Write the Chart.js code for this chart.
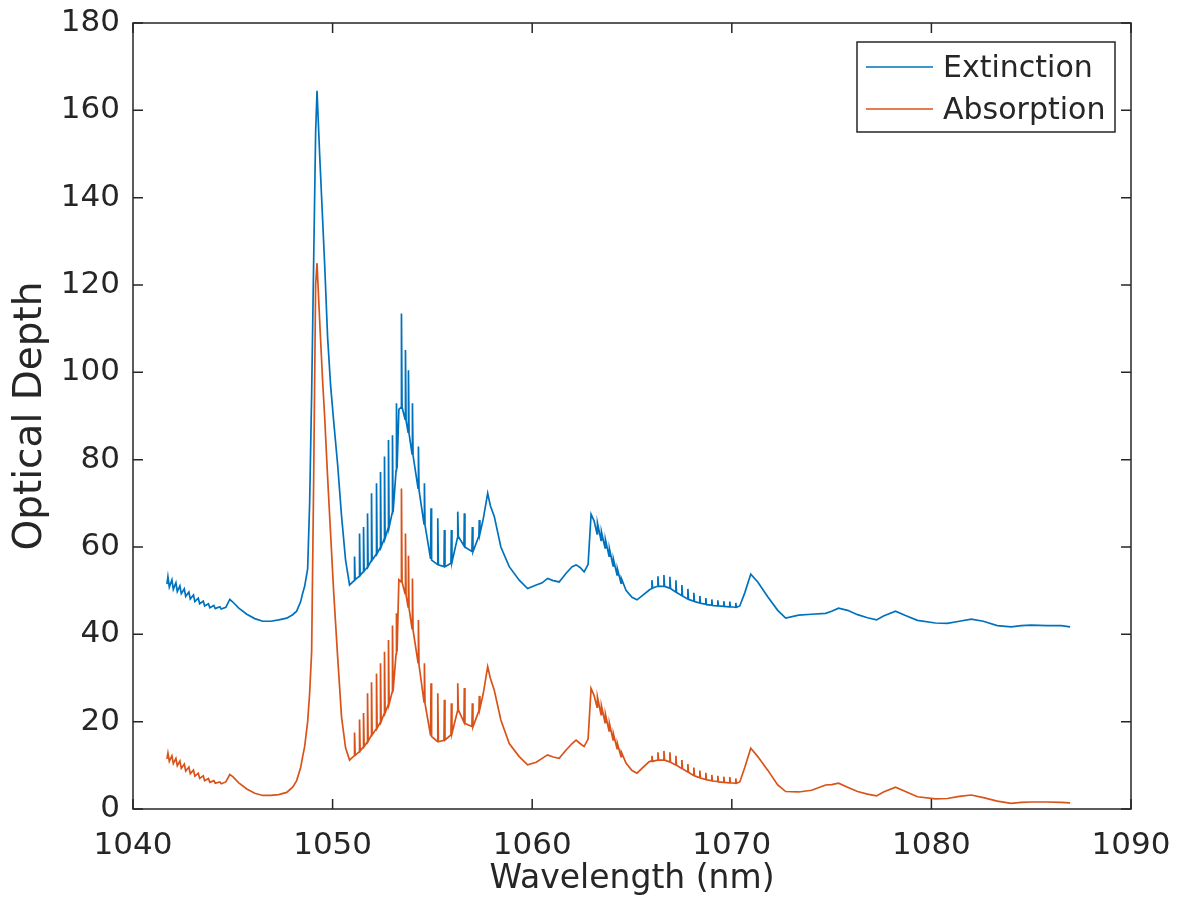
<!DOCTYPE html>
<html>
<head>
<meta charset="utf-8">
<script src="https://cdn.jsdelivr.net/npm/chart.js@4.4.1/dist/chart.umd.min.js"></script>
<style>
  html, body { margin: 0; background: #fff; }
</style>
</head>
<body>
<canvas id="myChart" width="1182" height="917"></canvas>
<script>
// wavelength (nm), shared by both curves
const wavelength = [
  // before the main peak, small ripple
  1041.70, 1041.75, 1041.82, 1041.95, 1042.02, 1042.15, 1042.22, 1042.35, 1042.42, 1042.57,
  1042.64, 1042.80, 1042.87, 1043.03, 1043.10, 1043.27, 1043.34, 1043.52, 1043.59, 1043.78,
  1043.85, 1044.05, 1044.12, 1044.35, 1044.42, 1044.65, 1044.85, 1045.00, 1045.30, 1045.70,
  1046.10, 1046.50, 1046.90, 1047.30, 1047.70, 1048.00, 1048.20, 1048.40, 1048.50, 1048.60,
  // main peak
  1048.75, 1048.85, 1048.95, 1049.05, 1049.15, 1049.22, 1049.35, 1049.50, 1049.60, 1049.75,
  1049.90, 1050.05, 1050.25, 1050.45, 1050.65, 1050.85,
  // comb around 1053 nm
  1051.08, 1051.10, 1051.13, 1051.33, 1051.35, 1051.38, 1051.53, 1051.55, 1051.58, 1051.73,
  1051.75, 1051.78, 1051.93, 1051.95, 1051.98, 1052.18, 1052.20, 1052.23, 1052.38, 1052.40,
  1052.43, 1052.58, 1052.60, 1052.63, 1052.78, 1052.80, 1052.83, 1052.98, 1053.00, 1053.03,
  1053.18, 1053.20, 1053.23, 1053.32, 1053.43, 1053.45, 1053.48, 1053.63, 1053.65, 1053.68,
  1053.78, 1053.80, 1053.83, 1053.98, 1054.00, 1054.03, 1054.28, 1054.30, 1054.33, 1054.58,
  1054.60, 1054.63, 1054.91, 1054.93, 1054.96, 1055.25, 1055.27, 1055.30, 1055.58, 1055.60,
  1055.63, 1055.93, 1055.95, 1055.98, 1056.25, 1056.27, 1056.30, 1056.58, 1056.60, 1056.63,
  1056.98, 1057.00, 1057.03, 1057.33, 1057.35, 1057.38,
  // 1058 and 1063 peaks
  1057.55, 1057.77, 1057.90, 1058.10, 1058.43, 1058.85, 1059.35, 1059.77, 1060.20, 1060.50,
  1060.77, 1061.05, 1061.35, 1061.70, 1062.00, 1062.20, 1062.40, 1062.60, 1062.80, 1062.95,
  1063.10, 1063.25, 1063.27, 1063.45, 1063.47, 1063.65, 1063.67, 1063.85, 1063.87, 1064.05,
  1064.07, 1064.25, 1064.27, 1064.45, 1064.47, 1064.70, 1065.00, 1065.25, 1065.50, 1065.85,
  // ripple 1066-1070 nm
  1065.98, 1066.00, 1066.03, 1066.28, 1066.30, 1066.33, 1066.58, 1066.60, 1066.63, 1066.88,
  1066.90, 1066.93, 1067.18, 1067.20, 1067.23, 1067.48, 1067.50, 1067.53, 1067.78, 1067.80,
  1067.83, 1068.08, 1068.10, 1068.13, 1068.38, 1068.40, 1068.43, 1068.68, 1068.70, 1068.73,
  1068.98, 1069.00, 1069.03, 1069.28, 1069.30, 1069.33, 1069.58, 1069.60, 1069.63, 1069.88,
  1069.90, 1069.93, 1070.18, 1070.20, 1070.23,
  // tail
  1070.40, 1070.65, 1070.95, 1071.30, 1071.80, 1072.30, 1072.70, 1073.35, 1074.00, 1074.70,
  1075.00, 1075.35, 1075.80, 1076.30, 1076.80, 1077.25, 1077.60, 1078.20, 1078.70, 1079.30,
  1080.20, 1080.80, 1081.40, 1082.00, 1082.60, 1083.30, 1084.00, 1084.50, 1085.00, 1085.80,
  1086.50, 1086.95
];

const extinction = [
  51.5, 53.2, 50.8, 52.5, 50.3, 51.8, 49.8, 51.1, 49.3, 50.4,
  48.7, 49.7, 48.1, 49.0, 47.5, 48.3, 47.0, 47.6, 46.5, 47.0,
  46.1, 46.6, 45.9, 46.3, 45.8, 46.2, 48.0, 47.4, 46.0, 44.6,
  43.6, 43.0, 43.0, 43.3, 43.7, 44.5, 45.3, 47.5, 49.4, 51.0,
  55.0, 70.0, 95.0, 125.0, 155.0, 164.5, 150.0, 135.0, 125.0, 108.0,
  97.0, 89.0, 79.0, 67.0, 57.0, 51.3,
  52.3, 57.8, 52.5, 53.3, 63.1, 53.5, 54.3, 64.6, 54.5, 55.3,
  67.7, 55.5, 56.8, 72.3, 57.0, 58.3, 74.6, 58.5, 59.8, 77.2,
  60.0, 61.8, 80.7, 62.0, 64.3, 84.5, 64.5, 67.7, 85.6, 68.0,
  77.5, 92.9, 78.0, 91.5, 92.0, 113.5, 92.0, 89.3, 105.1, 89.0,
  86.3, 100.5, 86.0, 81.3, 92.9, 81.0, 73.5, 83.0, 73.0, 65.3,
  74.6, 65.0, 57.3, 68.9, 57.0, 56.0, 66.6, 55.9, 55.5, 63.9,
  55.5, 56.3, 63.9, 56.5, 62.0, 68.1, 62.4, 60.3, 67.7, 60.0,
  59.0, 64.6, 58.9, 62.5, 66.2, 63.0,
  66.5, 72.3, 69.5, 67.0, 60.0, 55.5, 52.4, 50.5, 51.3, 51.8,
  52.8, 52.3, 52.0, 54.0, 55.5, 55.9, 55.3, 54.3, 56.0, 67.5,
  66.0, 63.0, 65.5, 61.5, 63.5, 59.8, 61.7, 57.9, 59.6, 55.7,
  57.2, 53.6, 55.0, 51.7, 52.8, 50.1, 48.5, 47.9, 48.8, 50.1,
  50.5, 52.4, 50.6, 51.0, 53.3, 51.0, 51.0, 53.6, 51.0, 50.6,
  53.2, 50.5, 49.7, 52.4, 49.6, 48.9, 51.3, 48.8, 48.1, 50.4,
  48.0, 47.6, 49.5, 47.5, 47.2, 48.8, 47.1, 46.9, 48.3, 46.8,
  46.7, 48.0, 46.6, 46.5, 47.8, 46.5, 46.4, 47.6, 46.4, 46.3,
  47.5, 46.3, 46.2, 47.2, 46.2,
  46.5, 49.5, 53.8, 52.0, 48.6, 45.5, 43.7, 44.4, 44.6, 44.8,
  45.3, 46.0, 45.5, 44.5, 43.8, 43.3, 44.2, 45.3, 44.3, 43.2,
  42.6, 42.5, 43.0, 43.5, 43.0, 42.0, 41.7, 42.0, 42.1, 42.0,
  42.0, 41.7
];

const absorption = [
  11.5, 12.8, 10.9, 12.2, 10.4, 11.6, 9.9, 11.0, 9.3, 10.3,
  8.7, 9.6, 8.1, 8.9, 7.5, 8.2, 7.0, 7.6, 6.5, 7.0,
  6.1, 6.5, 5.9, 6.2, 5.8, 6.2, 7.9, 7.4, 6.0, 4.6,
  3.6, 3.1, 3.1, 3.3, 3.8, 5.0, 6.5, 9.5, 12.0, 14.3,
  20.0, 26.5, 36.0, 75.0, 120.0, 125.0, 112.0, 98.0, 90.0, 76.0,
  63.0, 50.0, 35.0, 21.0, 14.0, 11.2,
  12.2, 17.5, 12.3, 13.1, 20.5, 13.3, 14.1, 22.0, 14.3, 15.3,
  26.5, 15.5, 16.8, 29.0, 17.0, 18.3, 31.0, 18.5, 19.8, 33.4,
  20.0, 21.8, 36.0, 22.0, 23.8, 38.7, 24.0, 26.7, 42.0, 27.0,
  35.5, 44.8, 36.0, 52.5, 52.0, 73.4, 52.0, 49.3, 63.1, 49.0,
  46.3, 58.0, 46.0, 41.3, 52.8, 41.0, 33.5, 43.3, 33.0, 24.5,
  33.4, 24.2, 16.8, 28.8, 16.6, 15.5, 26.5, 15.4, 15.7, 25.0,
  15.8, 17.0, 24.2, 17.3, 22.3, 28.8, 22.7, 19.9, 27.7, 19.6,
  18.9, 24.2, 18.8, 22.5, 25.9, 23.0,
  26.5, 32.6, 30.0, 27.2, 20.4, 15.0, 12.0, 10.1, 10.7, 11.6,
  12.4, 11.9, 11.6, 13.5, 15.0, 15.8, 15.0, 14.3, 16.0, 27.6,
  26.0, 23.3, 25.6, 21.6, 23.6, 19.8, 21.7, 17.9, 19.6, 15.8,
  17.2, 13.8, 15.0, 12.0, 13.0, 10.5, 8.8, 8.2, 9.3, 10.8,
  11.0, 12.2, 10.9, 11.2, 13.0, 11.2, 11.2, 13.3, 11.2, 10.8,
  13.0, 10.7, 10.1, 12.2, 10.0, 9.3, 11.2, 9.2, 8.5, 10.3,
  8.4, 7.7, 9.5, 7.6, 7.2, 8.8, 7.1, 6.8, 8.3, 6.7,
  6.5, 7.8, 6.4, 6.3, 7.6, 6.2, 6.1, 7.4, 6.1, 6.0,
  7.3, 6.0, 5.9, 7.0, 5.9,
  6.2, 9.5, 13.9, 12.0, 8.9, 5.5, 4.0, 3.9, 4.3, 5.5,
  5.6, 5.9, 5.0, 4.0, 3.4, 3.0, 3.9, 5.0, 4.0, 2.8,
  2.3, 2.4, 2.9, 3.2, 2.6, 1.8, 1.3, 1.5, 1.6, 1.6,
  1.5, 1.4
];

const xTicks = [1040, 1050, 1060, 1070, 1080, 1090];
const yTicks = [0, 20, 40, 60, 80, 100, 120, 140, 160, 180];

const blue = "rgb(0, 114, 189)";
const orange = "rgb(217, 83, 25)";
const axisColor = "rgb(38, 38, 38)";
const fontName = "'DejaVu Sans', sans-serif";

// matlab style box with inward ticks on all sides
const axesBox = {
  id: "axesBox",
  afterDatasetsDraw(chart) {
    const { ctx, chartArea: a, scales } = chart;
    ctx.save();
    ctx.strokeStyle = axisColor;
    ctx.lineWidth = 1.5;
    ctx.strokeRect(a.left, a.top, a.right - a.left, a.bottom - a.top);
    ctx.beginPath();
    xTicks.forEach((v) => {
      const p = scales.x.getPixelForValue(v);
      ctx.moveTo(p, a.bottom);
      ctx.lineTo(p, a.bottom - 10);
      ctx.moveTo(p, a.top);
      ctx.lineTo(p, a.top + 10);
    });
    yTicks.forEach((v) => {
      const p = scales.y.getPixelForValue(v);
      ctx.moveTo(a.left, p);
      ctx.lineTo(a.left + 10, p);
      ctx.moveTo(a.right, p);
      ctx.lineTo(a.right - 10, p);
    });
    ctx.stroke();
    ctx.restore();
  },
};

// legend box in the upper right corner
const boxLegend = {
  id: "boxLegend",
  afterDraw(chart) {
    const { ctx, chartArea: a } = chart;
    const x0 = a.right - 274, y0 = a.top + 19, w = 258, h = 90;
    ctx.save();
    ctx.fillStyle = "#fff";
    ctx.fillRect(x0, y0, w, h);
    ctx.strokeStyle = axisColor;
    ctx.lineWidth = 1.5;
    ctx.strokeRect(x0, y0, w, h);
    ctx.font = "30px " + fontName;
    ctx.textBaseline = "middle";
    chart.data.datasets.forEach((ds, i) => {
      const y = y0 + 25 + i * 42;
      ctx.strokeStyle = ds.borderColor;
      ctx.lineWidth = 1.5;
      ctx.beginPath();
      ctx.moveTo(x0 + 9, y);
      ctx.lineTo(x0 + 76, y);
      ctx.stroke();
      ctx.fillStyle = axisColor;
      ctx.fillText(ds.label, x0 + 86, y + 2);
    });
    ctx.restore();
  },
};

// keep the plot box where the layout padding puts it
function noLabelPadding(scale) {
  scale.paddingTop = 0;
  scale.paddingBottom = 0;
  scale.paddingLeft = 0;
  scale.paddingRight = 0;
}

const canvas = document.getElementById("myChart");

const myChart = new Chart(canvas, {
  type: "line",
  data: {
    datasets: [
      {
        label: "Extinction",
        data: wavelength.map((x, i) => ({ x: x, y: extinction[i] })),
        borderColor: blue,
        borderWidth: 1.7,
        pointRadius: 0,
        tension: 0,
        fill: false,
      },
      {
        label: "Absorption",
        data: wavelength.map((x, i) => ({ x: x, y: absorption[i] })),
        borderColor: orange,
        borderWidth: 1.7,
        pointRadius: 0,
        tension: 0,
        fill: false,
      },
    ],
  },
  options: {
    responsive: false,
    animation: false,
    layout: { padding: { top: 23, right: 51, left: 0, bottom: 0 } },
    plugins: {
      legend: { display: false },
      tooltip: { enabled: false },
    },
    scales: {
      x: {
        type: "linear",
        min: 1040,
        max: 1090,
        afterFit: (scale) => {
          scale.height = 108;
          noLabelPadding(scale);
        },
        grid: { display: false, drawTicks: false },
        border: { display: false },
        ticks: {
          stepSize: 10,
          maxRotation: 0,
          padding: 18,
          color: axisColor,
          font: { family: fontName, size: 31 },
          callback: (v) => String(v),
        },
        title: {
          display: true,
          text: "Wavelength (nm)",
          color: axisColor,
          font: { family: fontName, size: 33 },
          padding: { top: 0, bottom: 18 },
        },
      },
      y: {
        min: 0,
        max: 180,
        afterFit: (scale) => {
          scale.width = 133;
          noLabelPadding(scale);
        },
        grid: { display: false, drawTicks: false },
        border: { display: false },
        ticks: {
          stepSize: 20,
          padding: 13,
          color: axisColor,
          font: { family: fontName, size: 31 },
        },
        title: {
          display: true,
          text: "Optical Depth",
          color: axisColor,
          font: { family: fontName, size: 39 },
          padding: { top: 7, bottom: 0 },
        },
      },
    },
  },
  plugins: [axesBox, boxLegend],
});
</script>
</body>
</html>
